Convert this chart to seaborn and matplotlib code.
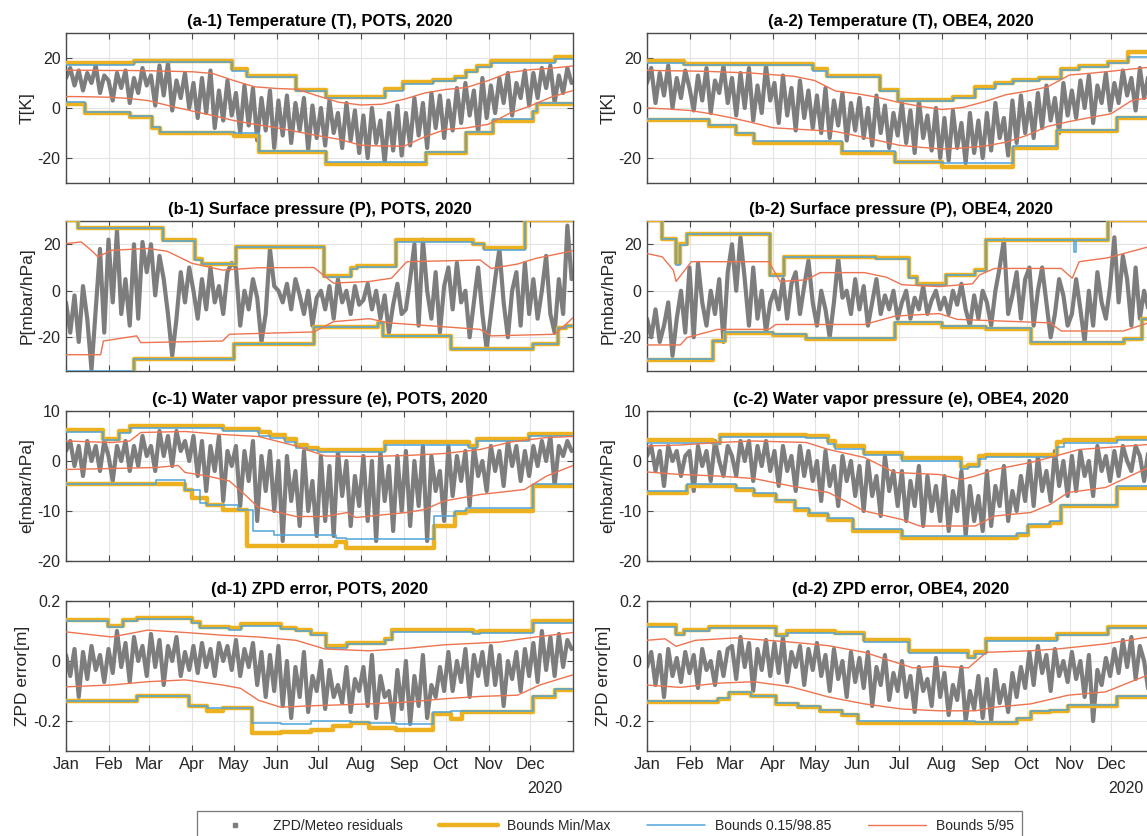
import numpy as np
import pandas as pd
import matplotlib
matplotlib.use("Agg")
import matplotlib.pyplot as plt
import seaborn as sns
from matplotlib.lines import Line2D
from matplotlib.transforms import blended_transform_factory

# ---------------- data ----------------
MONTH_LABELS = ["Jan", "Feb", "Mar", "Apr", "May", "Jun", "Jul", "Aug", "Sep", "Oct", "Nov", "Dec"]
MONTH_START_DAYS = [0, 31, 60, 91, 121, 152, 182, 213, 244, 274, 305, 335]
HALF_MONTH_DAYS = [0, 15, 31, 46, 60, 75, 91, 106, 121, 136, 152, 167, 182, 197, 213, 228,
                   244, 259, 274, 289, 305, 320, 335, 350, 366]

TITLES = ["(a-1) Temperature (T), POTS, 2020", "(a-2) Temperature (T), OBE4, 2020",
          "(b-1) Surface pressure (P), POTS, 2020", "(b-2) Surface pressure (P), OBE4, 2020",
          "(c-1) Water vapor pressure (e), POTS, 2020", "(c-2) Water vapor pressure (e), OBE4, 2020",
          "(d-1) ZPD error, POTS, 2020", "(d-2) ZPD error, OBE4, 2020"]
YLABELS = ["T[K]", "P[mbar/hPa]", "e[mbar/hPa]", "ZPD error[m]"]
YLIMS = [(-30, 30), (-34.5, 30), (-20, 10), (-0.3, 0.2)]
YTICKS = [[-20, 0, 20], [-20, 0, 20], [-20, -10, 0, 10], [-0.2, 0, 0.2]]
YTICKLABELS = [["-20", "0", "20"], ["-20", "0", "20"], ["-20", "-10", "0", "10"], ["-0.2", "0", "0.2"]]
LEGEND_LABELS = ["ZPD/Meteo residuals", "Bounds Min/Max", "Bounds 0.15/98.85", "Bounds 5/95"]

# ---- (a-1) T, POTS ----
A1_RES = [12, 16, 9, 15, 7, 14, 10, 17, 6, 13,
          11, 3, 14, 8, 15, 2, 12, 6, 16, 9,
          13, 1, 17, 5, 18, -1, 11, 4, 14, 0,
          10, -4, 12, -2, 15, -8, 7, -5, 11, -3,
          6, -10, 9, -7, 8, -13, 4, -9, 7, -16,
          3, -11, 5, -14, 2, -9, 4, -17, 1, -12,
          0, -15, 3, -10, -2, -16, 2, -13, -1, -18,
          -3, -20, 0, -14, -5, -22, -2, -17, 1, -19,
          -2, -15, 4, -11, 2, -16, 6, -8, 5, -12,
          3, -9, 8, -6, 10, -3, 7, -10, 12, -4,
          9, -2, 12, 2, 14, -3, 10, 4, 15, 1,
          14, 4, 16, 8, 17, 2, 13, 6, 16, 10]
A1_UP_D = [0, 49, 120, 131, 166, 188, 230, 243, 265, 281, 289, 297, 307, 353, 366]
A1_MAX = [18.0, 18.9, 15.5, 13.0, 7.2, 4.3, 7.5, 10.3, 11.4, 12.5, 15.0, 17.0, 18.7, 20.6, 20.6]
A1_B98 = [17.3, 18.4, 15.0, 12.5, 6.8, 3.9, 7.0, 9.8, 10.9, 12.0, 14.5, 16.5, 18.2, 19.6, 19.6]
A1_LO_D = [0, 14, 46, 62, 68, 121, 139, 188, 260, 289, 308, 337, 340, 366]
A1_MIN = [1.6, -2.0, -3.5, -7.9, -9.9, -11.0, -17.5, -22.5, -18.0, -10.0, -5.0, -1.5, 1.5, 1.5]
A1_B015 = [2.5, -1.5, -3.0, -7.5, -9.4, -10.0, -17.0, -21.5, -17.5, -9.5, -4.5, -1.0, 2.0, 2.0]
A1_P95 = [15.1, 15.1, 15.0, 15.0, 14.9, 14.7, 14.5, 13.8, 11.0, 8.5, 7.8, 7.5, 4.8, 2.3, 1.2, 1.5,
          3.5, 6.0, 7.4, 8.2, 11.0, 14.2, 15.3, 15.9, 16.8]
A1_P5 = [4.6, 4.5, 4.3, 3.8, 2.9, 0.8, -1.2, -3.0, -5.0, -6.5, -7.9, -9.5, -11.1, -12.5, -14.9, -15.2,
         -15.3, -11.5, -8.6, -8.0, -6.5, -2.2, 0.8, 4.3, 7.0]

# ---- (a-2) T, OBE4 ----
A2_RES = [10, 16, 2, 14, 5, 17, 0, 12, 4, 15,
          8, -1, 13, 3, 16, -2, 11, 6, 17, 2,
          12, -3, 14, 0, 16, -5, 9, -2, 17, 3,
          10, -6, 13, -3, 8, -9, 11, -4, 7, -8,
          5, -10, 8, -12, 3, -7, 6, -13, 2, -9,
          4, -12, 0, -15, 5, -10, 1, -16, -2, -11,
          2, -14, -1, -18, 3, -12, -3, -17, 0, -20,
          -4, -21, -1, -16, -6, -22, -2, -18, -5, -20,
          -2, -17, 2, -12, -4, -19, 3, -14, 5, -10,
          2, -12, 6, -8, 9, -5, 4, -10, 10, -3,
          7, -4, 11, 0, 13, -6, 9, 2, 14, -1,
          10, 2, 15, 5, 12, -1, 16, 4, 13, 8]
A2_UP_D = [0, 27, 120, 130, 168, 181, 221, 237, 251, 264, 283, 299, 312, 333, 347, 366]
A2_MAX = [18.7, 17.8, 15.5, 13.0, 7.2, 3.3, 4.6, 8.3, 10.0, 11.2, 12.2, 15.8, 17.0, 18.4, 22.4, 22.4]
A2_B98 = [18.0, 17.3, 15.0, 12.5, 6.7, 2.8, 4.0, 7.8, 9.5, 10.7, 11.7, 15.3, 16.5, 17.9, 20.4, 20.4]
A2_LO_D = [0, 45, 64, 77, 141, 179, 213, 264, 296, 339, 366]
A2_MIN = [-4.6, -7.2, -10.5, -13.8, -17.8, -21.7, -23.4, -15.8, -9.2, -3.9, -3.9]
A2_B015 = [-4.2, -6.8, -10.0, -13.0, -17.0, -21.5, -22.0, -15.3, -8.8, -3.5, -3.5]
A2_P95 = [15.1, 14.9, 14.8, 14.6, 14.3, 14.0, 13.3, 12.7, 11.0, 6.8, 5.7, 4.2, 2.2, 0.7, -0.6, 0.2,
          2.6, 5.3, 6.7, 8.4, 13.2, 13.9, 14.7, 15.6, 16.5]
A2_P5 = [0.0, -0.4, -1.0, -2.3, -3.8, -5.7, -7.9, -8.4, -8.9, -9.4, -11.2, -13.0, -14.9, -15.7, -16.4,
         -16.0, -15.2, -13.7, -11.0, -7.4, -5.4, -3.8, -2.3, 3.0, 4.4]

# ---- (b-1) P, POTS ----
B1_RES = [-5, -18, -2, -22, 2, -12, -34, -8, 18, -18,
          22, -5, 26, -10, 5, -15, 20, -12, 21, 8,
          20, -2, 15, 5, -10, -28, -12, 8, -5, 10,
          0, -12, 5, -8, 10, -5, 2, -10, 8, 12,
          10, -15, 0, -8, 5, -3, -22, -10, 18, 2,
          0, -5, 3, -8, 5, -2, -10, 0, -15, -3,
          0, -8, 2, -12, 5, -5, 0, -10, 2, -6,
          -4, 3, -8, 0, -12, -2, -18, -6, 3, -10,
          -8, 5, 20, -15, 22, 0, -12, 8, -18, 2,
          10, -8, 12, -5, 0, -20, -5, 10, -10, -25,
          -10, 5, 18, -5, -20, 0, 8, -15, 12, -10,
          5, -12, 0, 15, -10, -18, 5, -10, 28, 5]
B1_UP_D = [0, 9, 70, 93, 98, 123, 186, 206, 210, 238, 294, 302, 331, 366]
B1_MAX = [30.5, 27.0, 21.7, 13.5, 11.5, 18.9, 6.4, 9.6, 10.6, 21.7, 20.3, 18.6, 30.5, 30.5]
B1_B98 = [30.5, 26.8, 21.5, 13.3, 11.3, 18.7, 5.9, 9.4, 10.4, 21.0, 20.0, 17.4, 30.5, 30.5]
B1_LO_D = [0, 49, 121, 179, 225, 229, 278, 337, 355, 361, 366]
B1_MIN = [-36.0, -29.4, -23.0, -15.6, -13.8, -19.4, -25.1, -23.0, -16.0, -15.0, -15.0]
B1_B015 = [-34.3, -29.4, -23.0, -15.6, -13.8, -19.4, -25.1, -23.0, -16.0, -15.0, -15.0]
B1_P95_D = [0, 11, 19, 23, 33, 59, 73, 91, 113, 139, 179, 193, 219, 235, 246, 299, 307, 326, 339, 366]
B1_P95 = [20.3, 21.0, 17.0, 14.6, 17.4, 18.2, 17.0, 11.8, 8.9, 9.9, 10.0, 3.3, 4.0, 5.4, 12.5, 13.2,
          9.6, 11.5, 13.9, 17.2]
B1_P5_D = [0, 25, 27, 51, 54, 113, 118, 179, 193, 219, 233, 299, 307, 353, 366]
B1_P5 = [-27.5, -27.5, -21.6, -19.4, -22.3, -21.6, -18.7, -17.7, -13.3, -12.0, -13.8, -16.6, -19.4,
         -18.7, -11.6]

# ---- (b-2) P, OBE4 ----
B2_RES = [-12, -20, -8, -22, -15, -5, -28, -12, 0, -18,
          10, -20, 12, -5, -15, 0, -10, 5, -22, 8,
          20, 0, 23, 5, -15, 10, -12, 0, -18, -5,
          0, -8, 5, -12, 3, 8, -10, 2, 13, -5,
          -15, 0, -8, -20, -5, 14, -3, 0, -10, 5,
          -8, 2, -15, -5, 5, -10, -2, -8, 0, -12,
          -5, 0, -12, -3, -8, 2, -10, -4, 0, -8,
          -3, -10, 0, -6, 3, -8, -15, -2, -12, 0,
          -5, -15, 0, 10, 22, -10, -2, 8, -12, 5,
          10, -15, 0, 10, -5, -20, -10, 5, -2, -15,
          -10, 5, -8, -22, 0, -15, 8, -5, -12, 2,
          23, -5, 15, 5, -15, 10, -12, 0, -8, 5]
B2_UP_D = [0, 11, 21, 24, 29, 89, 99, 165, 189, 195, 216, 237, 245, 308, 310, 333, 366]
B2_MAX = [30.5, 22.4, 11.8, 20.3, 24.5, 6.8, 14.6, 13.9, 5.8, 2.8, 6.8, 8.9, 22.0, 22.0, 22.0, 30.5, 30.5]
B2_B98 = [30.5, 22.2, 11.0, 19.8, 24.3, 6.3, 14.4, 13.7, 5.6, 2.6, 6.6, 8.7, 21.8, 16.7, 21.8, 30.5, 30.5]
B2_LO_D = [0, 48, 56, 91, 115, 179, 213, 245, 277, 344, 357, 366]
B2_MIN = [-29.6, -21.6, -18.0, -19.0, -20.6, -13.8, -15.5, -16.3, -22.3, -20.9, -12.3, -12.3]
B2_B015 = [-29.2, -21.4, -17.8, -18.8, -20.4, -13.6, -15.3, -16.1, -22.0, -20.7, -12.0, -12.0]
B2_P95_D = [0, 11, 19, 21, 32, 88, 96, 115, 125, 157, 173, 184, 211, 235, 240, 251, 299, 307, 312,
            333, 362, 366]
B2_P95 = [16.0, 14.6, 8.9, 4.0, 12.5, 12.5, 4.0, 4.7, 7.8, 7.8, 5.8, 2.6, 1.8, 3.0, 6.8, 9.6, 9.6,
          5.4, 12.5, 14.2, 18.9, 18.9]
B2_P5_D = [0, 24, 29, 51, 88, 93, 157, 179, 211, 224, 291, 299, 344, 362, 366]
B2_P5 = [-23.3, -23.3, -20.1, -16.6, -16.6, -14.5, -14.5, -10.9, -9.8, -12.3, -13.8, -17.3, -17.3,
         -13.8, -13.8]

# ---- (c-1) e, POTS ----
C1_RES = [2, 4, -1, 3, -3, 4, 0, 3, -2, 4,
          1, -4, 3, 0, 4, -2, 3, -1, 5, 1,
          3, -2, 6, 1, 5, -1, 6, 2, 4, 0,
          5, -3, 4, -6, 3, -2, 5, -8, 2, -1,
          3, -9, 2, -4, 4, -12, 1, -6, 2, -10,
          0, -16, 1, -8, -2, -13, 2, -10, -4, -15,
          1, -12, -1, -15, 2, -7, 0, -13, -3, -9,
          1, -12, 0, -16, 2, -8, -1, -14, 1, -10,
          2, -13, 0, -9, 3, -16, 1, -6, -2, -12,
          3, -7, 1, -4, 2, -9, 3, -3, 0, -6,
          3, -2, 2, -5, 4, -1, 3, -4, 2, -3,
          3, -1, 4, 0, 5, -5, 3, 1, 4, 2]
C1_UP_D = [0, 27, 38, 46, 113, 139, 147, 158, 166, 174, 182, 230, 291, 297, 334, 366]
C1_MAX = [6.3, 4.5, 6.0, 7.0, 6.5, 5.8, 5.3, 4.5, 3.3, 2.7, 2.3, 3.8, 3.0, 4.5, 5.5, 5.5]
C1_B98 = [5.8, 4.2, 5.6, 6.6, 6.1, 5.0, 4.6, 3.8, 2.7, 2.2, 1.9, 3.3, 2.7, 4.0, 5.0, 5.0]
C1_LO_D = [0, 65, 86, 91, 97, 102, 113, 124, 131, 135, 150, 195, 202, 266, 281, 289, 337, 366]
C1_MIN = [-4.5, -4.5, -5.7, -7.3, -7.3, -8.7, -9.7, -9.7, -17.0, -17.0, -17.0, -16.2, -17.3, -13.0,
          -10.3, -10.0, -5.0, -5.0]
C1_B015 = [-4.5, -3.8, -5.7, -5.7, -8.3, -8.7, -8.7, -9.7, -9.7, -14.0, -14.7, -15.3, -15.5, -10.9,
           -10.0, -9.3, -4.5, -4.5]
C1_P95_D = [0, 33, 46, 54, 86, 113, 139, 166, 187, 219, 246, 273, 299, 321, 347, 366]
C1_P95 = [4.0, 3.7, 4.0, 5.7, 5.9, 5.3, 4.9, 3.0, 1.0, 0.9, 1.1, 1.5, 2.3, 3.8, 4.7, 4.9]
C1_P5_D = [0, 33, 65, 81, 86, 102, 118, 129, 139, 166, 187, 203, 209, 246, 259, 273, 299, 331, 347, 366]
C1_P5 = [-1.7, -1.5, -1.3, -0.9, -2.3, -3.0, -4.0, -6.7, -9.3, -11.1, -11.1, -10.3, -11.3, -10.3,
         -9.7, -8.0, -6.7, -5.7, -3.0, -0.9]

# ---- (c-2) e, OBE4 ----
C2_RES = [1, 3, -2, 2, -5, 3, 0, 2, -3, 1,
          2, -6, 3, -1, 2, -4, 4, 0, -3, 3,
          1, -3, 4, 0, 4, -4, 3, -1, 4, -2,
          2, -5, 3, -2, 1, -6, 3, -3, 2, -4,
          0, -8, 2, -5, -1, -9, 1, -4, 0, -7,
          -1, -10, 0, -7, -3, -11, 1, -6, -2, -9,
          -2, -12, -4, -9, -1, -13, -3, -10, -5, -12,
          -3, -14, -6, -10, -2, -15, -5, -12, -7, -14,
          -2, -13, -5, -9, -1, -12, -6, -10, -3, -8,
          0, -9, 1, -6, -2, -8, 2, -5, 0, -7,
          1, -6, 2, -3, 0, -7, 3, -2, 1, -4,
          2, -3, 3, 0, -2, 3, 1, -4, 2, -1]
C2_UP_D = [0, 48, 53, 115, 131, 136, 157, 184, 227, 232, 240, 245, 296, 301, 339, 366]
C2_MAX = [4.2, 3.7, 5.3, 5.0, 4.0, 3.0, 1.7, 0.7, -1.1, -0.7, 1.0, 1.3, 3.8, 4.2, 4.7, 4.7]
C2_B98 = [3.7, 3.4, 4.9, 4.6, 3.5, 2.5, 1.2, 0.0, -1.6, -1.2, 0.5, 0.8, 2.8, 3.7, 4.2, 4.2]
C2_LO_D = [0, 29, 64, 77, 93, 107, 117, 131, 149, 184, 267, 275, 291, 299, 339, 366]
C2_MIN = [-6.3, -4.9, -5.7, -6.7, -8.0, -9.7, -10.7, -11.7, -14.0, -15.3, -14.7, -13.0, -12.3, -9.0,
          -5.3, -5.3]
C2_B015 = [-6.0, -4.6, -5.4, -6.4, -7.7, -9.4, -10.4, -11.4, -13.6, -15.0, -14.4, -12.6, -11.9, -8.7,
           -5.0, -5.0]
C2_P95_D = [0, 24, 51, 77, 115, 131, 157, 179, 211, 227, 237, 251, 277, 291, 312, 362, 366]
C2_P95 = [3.0, 3.2, 3.7, 4.0, 3.7, 2.3, 0.7, -2.3, -2.7, -3.7, -3.0, -1.7, -0.3, 0.7, 2.3, 3.3, 3.3]
C2_P5_D = [0, 24, 51, 77, 104, 131, 157, 184, 197, 237, 251, 277, 291, 304, 331, 362, 366]
C2_P5 = [-2.2, -2.7, -3.0, -3.5, -5.0, -6.3, -10.0, -11.7, -13.0, -13.0, -11.0, -10.3, -8.7, -6.3,
         -5.3, -1.3, -1.3]

# ---- (d-1) ZPD, POTS ----
D1_RES = [0.02, -0.05, 0.04, -0.12, 0.03, -0.06, 0.05, -0.03, 0.02, -0.07,
          0.04, -0.04, 0.10, -0.02, 0.06, -0.07, 0.08, 0.00, 0.05, -0.05,
          0.09, -0.02, 0.07, -0.08, 0.05, 0.00, 0.08, -0.05, 0.03, -0.03,
          0.05, -0.04, 0.06, -0.02, 0.04, -0.05, 0.06, 0.00, 0.05, -0.03,
          0.07, -0.05, 0.04, -0.02, 0.06, -0.08, 0.03, -0.12, 0.02, -0.10,
          0.05, -0.15, 0.00, -0.19, -0.02, -0.12, 0.03, -0.17, -0.05, -0.10,
          0.00, -0.16, -0.03, -0.12, -0.08, -0.14, -0.02, -0.17, -0.06, -0.10,
          -0.02, -0.15, 0.02, -0.19, -0.05, -0.12, -0.10, -0.20, -0.03, -0.16,
          0.00, -0.21, -0.05, -0.15, 0.02, -0.19, -0.08, -0.12, -0.02, -0.10,
          0.03, -0.10, 0.00, -0.07, 0.04, -0.12, 0.02, -0.05, 0.03, -0.08,
          0.05, -0.08, 0.02, -0.15, 0.00, -0.06, 0.03, -0.10, 0.04, -0.05,
          0.06, -0.07, 0.10, -0.03, 0.08, -0.05, 0.09, -0.02, 0.07, 0.04]
D1_UP_D = [0, 30, 41, 51, 91, 97, 118, 126, 155, 166, 177, 188, 203, 230, 235, 294, 299, 337, 366]
D1_MAX = [0.138, 0.118, 0.137, 0.145, 0.131, 0.114, 0.109, 0.122, 0.111, 0.105, 0.091, 0.049, 0.061,
          0.074, 0.103, 0.097, 0.099, 0.135, 0.135]
D1_B98 = [0.132, 0.113, 0.132, 0.140, 0.126, 0.109, 0.104, 0.117, 0.106, 0.100, 0.086, 0.045, 0.057,
          0.070, 0.097, 0.091, 0.094, 0.128, 0.128]
D1_LO_D = [0, 51, 89, 102, 113, 134, 155, 177, 193, 206, 219, 238, 265, 278, 286, 337, 353, 366]
D1_MIN = [-0.134, -0.118, -0.149, -0.166, -0.157, -0.240, -0.237, -0.229, -0.217, -0.206, -0.223,
          -0.229, -0.177, -0.194, -0.171, -0.120, -0.097, -0.097]
D1_B015 = [-0.132, -0.115, -0.149, -0.156, -0.156, -0.206, -0.211, -0.200, -0.200, -0.203, -0.206,
           -0.211, -0.171, -0.168, -0.166, -0.117, -0.093, -0.093]
D1_P95_D = [0, 33, 59, 86, 113, 139, 166, 187, 219, 246, 273, 313, 339, 366]
D1_P95 = [0.097, 0.080, 0.103, 0.095, 0.086, 0.080, 0.069, 0.040, 0.034, 0.042, 0.054, 0.063, 0.080, 0.095]
D1_P5_D = [0, 33, 59, 86, 113, 126, 139, 155, 179, 219, 246, 273, 299, 326, 342, 366]
D1_P5 = [-0.086, -0.080, -0.069, -0.063, -0.080, -0.091, -0.131, -0.154, -0.149, -0.143, -0.137,
         -0.126, -0.118, -0.114, -0.080, -0.046]

# ---- (d-2) ZPD, OBE4 ----
D2_RES = [-0.02, 0.03, -0.08, 0.02, -0.12, 0.04, -0.05, 0.01, -0.07, 0.03,
          -0.04, 0.02, -0.09, 0.04, -0.03, 0.00, -0.08, 0.03, -0.05, 0.04,
          0.05, -0.06, 0.08, -0.02, 0.06, -0.10, 0.04, -0.03, 0.07, -0.05,
          0.06, -0.04, 0.08, -0.07, 0.03, -0.02, 0.05, -0.08, 0.04, -0.03,
          0.06, -0.05, 0.02, -0.10, 0.04, -0.06, 0.00, -0.12, 0.03, -0.07,
          0.01, -0.09, 0.03, -0.15, -0.02, -0.08, 0.02, -0.13, -0.04, -0.10,
          0.00, -0.12, -0.05, -0.17, -0.02, -0.10, -0.06, -0.15, 0.01, -0.12,
          -0.04, -0.18, -0.08, -0.13, -0.02, -0.20, -0.10, -0.16, -0.05, -0.19,
          -0.06, -0.20, -0.03, -0.14, -0.08, -0.17, -0.04, -0.12, -0.02, -0.09,
          0.03, -0.08, 0.05, -0.04, 0.02, -0.10, 0.04, -0.05, 0.00, -0.07,
          0.03, -0.06, 0.00, -0.12, 0.02, -0.20, -0.03, -0.08, 0.01, -0.05,
          0.04, -0.04, 0.07, -0.02, 0.08, -0.06, 0.05, 0.00, -0.10, 0.03]
D2_UP_D = [0, 21, 27, 45, 93, 101, 136, 157, 189, 232, 237, 245, 296, 333, 366]
D2_MAX = [0.120, 0.091, 0.103, 0.114, 0.088, 0.099, 0.095, 0.069, 0.034, 0.015, 0.029, 0.072, 0.091,
          0.114, 0.114]
D2_B98 = [0.114, 0.087, 0.099, 0.110, 0.084, 0.095, 0.091, 0.065, 0.028, 0.010, 0.024, 0.068, 0.087,
          0.110, 0.110]
D2_LO_D = [0, 51, 59, 75, 93, 109, 125, 141, 152, 237, 267, 277, 291, 304, 339, 366]
D2_MIN = [-0.137, -0.126, -0.106, -0.118, -0.143, -0.154, -0.166, -0.180, -0.206, -0.208, -0.194,
          -0.171, -0.166, -0.149, -0.120, -0.120]
D2_B015 = [-0.134, -0.123, -0.103, -0.115, -0.139, -0.150, -0.162, -0.176, -0.200, -0.203, -0.189,
           -0.167, -0.162, -0.145, -0.115, -0.115]
D2_P95_D = [0, 13, 21, 35, 64, 104, 131, 157, 192, 211, 232, 245, 277, 296, 331, 362, 366]
D2_P95 = [0.069, 0.074, 0.049, 0.069, 0.077, 0.063, 0.051, 0.029, -0.023, -0.017, -0.023, 0.029,
          0.034, 0.040, 0.057, 0.080, 0.080]
D2_P5_D = [0, 24, 51, 77, 104, 131, 157, 184, 211, 237, 251, 277, 304, 331, 362, 366]
D2_P5 = [-0.080, -0.088, -0.074, -0.069, -0.086, -0.120, -0.143, -0.160, -0.166, -0.166, -0.154,
         -0.143, -0.114, -0.103, -0.046, -0.046]

# ---------------- style ----------------
GRAY = "#7d7d7d"
YELLOW = "#EDB120"
BLUE = "#4FA4DC"
RED = "#EE7350"
FRAME = "#4a4a4a"
TEXT = "#262626"

sns.set_theme(style="whitegrid")
plt.rcParams["font.family"] = ["Liberation Sans", "DejaVu Sans"]
plt.rcParams["axes.unicode_minus"] = False

W, H = 1147, 836
fig = plt.figure(figsize=(W / 100, H / 100), dpi=100)
fig.patch.set_facecolor("white")

COL_LEFT = [66, 647]
AX_W = 507
ROW_TOP = [33, 221, 411, 601]
AX_H = 150

panels = [
    (A1_RES, A1_UP_D, A1_MAX, A1_B98, A1_LO_D, A1_MIN, A1_B015, HALF_MONTH_DAYS, A1_P95, HALF_MONTH_DAYS, A1_P5),
    (A2_RES, A2_UP_D, A2_MAX, A2_B98, A2_LO_D, A2_MIN, A2_B015, HALF_MONTH_DAYS, A2_P95, HALF_MONTH_DAYS, A2_P5),
    (B1_RES, B1_UP_D, B1_MAX, B1_B98, B1_LO_D, B1_MIN, B1_B015, B1_P95_D, B1_P95, B1_P5_D, B1_P5),
    (B2_RES, B2_UP_D, B2_MAX, B2_B98, B2_LO_D, B2_MIN, B2_B015, B2_P95_D, B2_P95, B2_P5_D, B2_P5),
    (C1_RES, C1_UP_D, C1_MAX, C1_B98, C1_LO_D, C1_MIN, C1_B015, C1_P95_D, C1_P95, C1_P5_D, C1_P5),
    (C2_RES, C2_UP_D, C2_MAX, C2_B98, C2_LO_D, C2_MIN, C2_B015, C2_P95_D, C2_P95, C2_P5_D, C2_P5),
    (D1_RES, D1_UP_D, D1_MAX, D1_B98, D1_LO_D, D1_MIN, D1_B015, D1_P95_D, D1_P95, D1_P5_D, D1_P5),
    (D2_RES, D2_UP_D, D2_MAX, D2_B98, D2_LO_D, D2_MIN, D2_B015, D2_P95_D, D2_P95, D2_P5_D, D2_P5),
]


def step_line(ax, d, v, color, lw, z):
    df = pd.DataFrame({"day": d, "val": v})
    sns.lineplot(data=df, x="day", y="val", ax=ax, color=color, lw=lw, estimator=None,
                 sort=False, drawstyle="steps-post", legend=False, zorder=z)


def smooth_line(ax, d, v, color, lw, z):
    df = pd.DataFrame({"day": d, "val": v})
    sns.lineplot(data=df, x="day", y="val", ax=ax, color=color, lw=lw, estimator=None,
                 sort=False, legend=False, zorder=z)


for i, (res, up_d, mx, b98, lo_d, mn, b015, p95_d, p95, p5_d, p5) in enumerate(panels):
    row, col = divmod(i, 2)
    left = COL_LEFT[col] / W
    bottom = 1 - (ROW_TOP[row] + AX_H) / H
    ax = fig.add_axes([left, bottom, AX_W / W, AX_H / H])
    ax.set_facecolor("white")

    days = np.linspace(0, 365, len(res))
    rdf = pd.DataFrame({"day": days, "res": res})
    sns.lineplot(data=rdf, x="day", y="res", ax=ax, color=GRAY, lw=3.0, estimator=None,
                 sort=False, legend=False, zorder=2)

    step_line(ax, up_d, mx, YELLOW, 3.2, 3)
    step_line(ax, lo_d, mn, YELLOW, 3.2, 3)
    step_line(ax, up_d, b98, BLUE, 1.1, 4)
    step_line(ax, lo_d, b015, BLUE, 1.1, 4)
    smooth_line(ax, p95_d, p95, RED, 1.0, 5)
    smooth_line(ax, p5_d, p5, RED, 1.0, 5)

    ax.set_xlim(0, 366)
    ax.set_ylim(*YLIMS[row])
    ax.set_yticks(YTICKS[row])
    ax.set_yticklabels(YTICKLABELS[row])
    ax.set_xticks(MONTH_START_DAYS)
    if row == 3:
        ax.set_xticklabels(MONTH_LABELS)
        tr = blended_transform_factory(ax.transData, ax.transAxes)
        ax.text(346, -0.25, "2020", transform=tr, ha="center", va="center",
                fontsize=11.5, color=TEXT)
    else:
        ax.set_xticklabels([])
    ax.set_xlabel("")
    ax.set_ylabel(YLABELS[row], fontsize=12.5, color=TEXT, labelpad=2)
    ax.set_title(TITLES[i], fontsize=12, fontweight="bold", color="black", pad=5)

    ax.grid(True, color="#e3e3e3", lw=0.8)
    ax.set_axisbelow(True)
    for sp in ax.spines.values():
        sp.set_visible(True)
        sp.set_color(FRAME)
        sp.set_linewidth(1.0)
    ax.tick_params(axis="both", which="both", direction="in", length=4, width=0.8,
                   color=FRAME, labelcolor=TEXT, top=True, right=True,
                   bottom=True, left=True, pad=4)
    ax.tick_params(axis="x", labelsize=12)
    ax.tick_params(axis="y", labelsize=11.5)

handles = [
    Line2D([], [], ls="none", marker="s", ms=2.5, color=GRAY),
    Line2D([], [], color=YELLOW, lw=3.2),
    Line2D([], [], color=BLUE, lw=1.1),
    Line2D([], [], color=RED, lw=1.0),
]
leg = fig.legend(handles, LEGEND_LABELS, loc="upper left", bbox_to_anchor=(197 / W, 1 - 811 / H),
                 ncol=4, frameon=True, fancybox=False, fontsize=10, handlelength=4.2,
                 handletextpad=0.7, columnspacing=2.6, borderaxespad=0, borderpad=0.6)
leg.get_frame().set_edgecolor("#555555")
leg.get_frame().set_linewidth(0.9)
for t in leg.get_texts():
    t.set_color(TEXT)

fig.savefig("out.png", dpi=100)
